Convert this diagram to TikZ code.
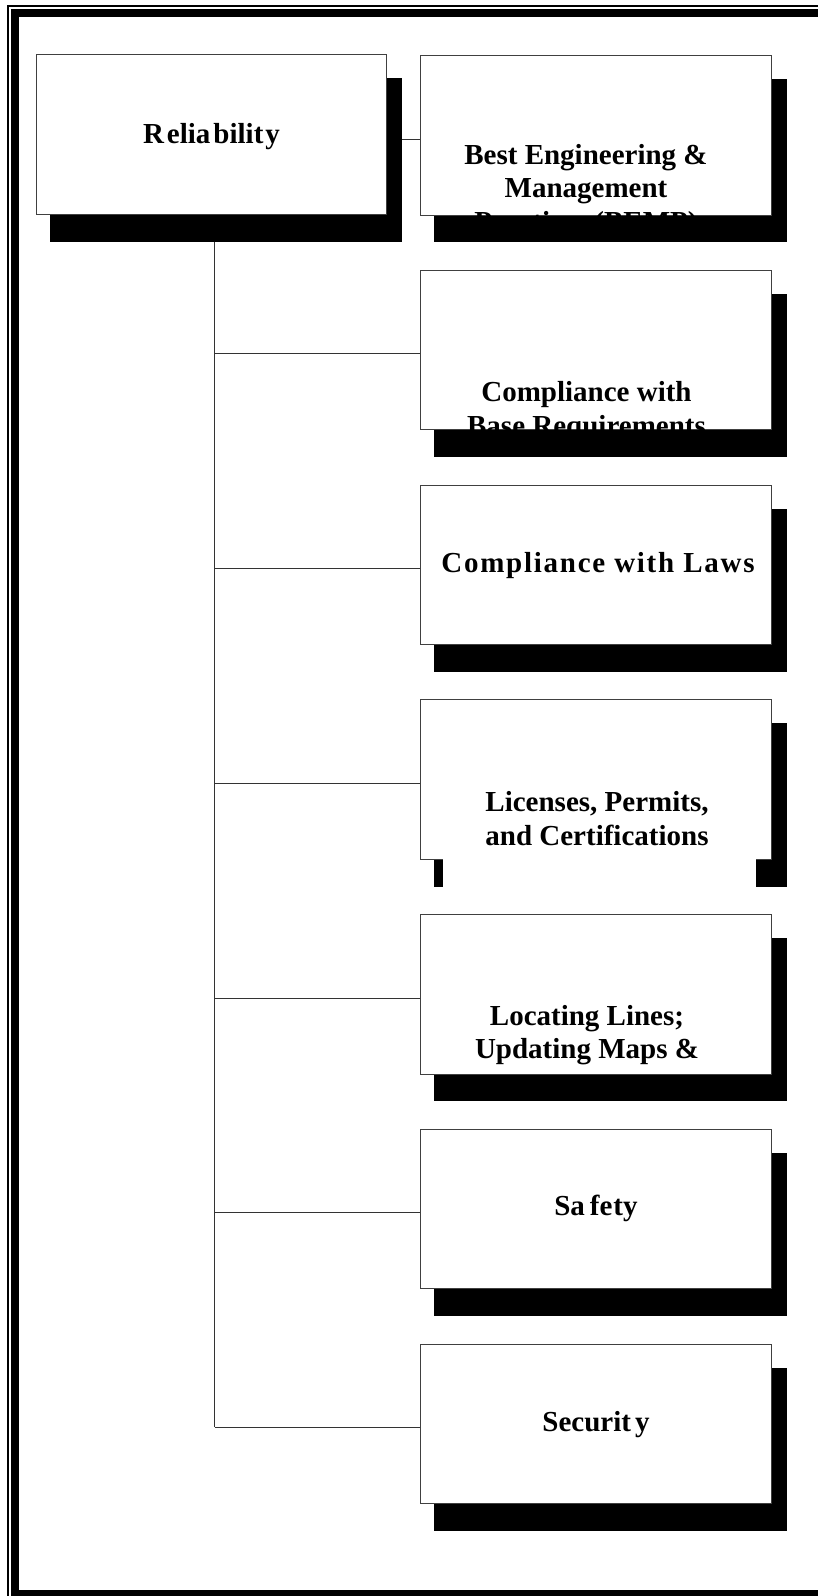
\documentclass[tikz,border=0pt]{standalone}
\usepackage{fontspec}
\setmainfont{Liberation Serif}
\usetikzlibrary{calc}
\pgfdeclarelayer{wires}
\pgfdeclarelayer{shade}
\pgfsetlayers{wires,shade,main}

\tikzset{
  card/.style={draw=black!75, line width=0.9pt, fill=white, inner sep=0pt,
    minimum width=351pt, minimum height=159.5pt, anchor=north west},
  rootcard/.style={card, minimum width=350pt, minimum height=160pt},
  % multi-line texts sit on the baseline of their last line
  txt/.style={font=\bfseries\fontsize{29}{33.5}\selectfont, align=center,
    inner sep=0pt, anchor=base},
  conn/.style={draw=black!80, line width=0.9pt},
  dropshade/.style={fill=black}
}

\begin{document}
\begin{tikzpicture}[x=1pt, y=-1pt]
  \useasboundingbox (0,0) rectangle (818,1596);
  \clip (0,0) rectangle (818,1596);

  % double page frame
  \draw[line width=1.8pt] (8.3,5.9) rectangle (840,1620);
  \draw[line width=8pt] (15,12.8) rectangle (830,1594);

  % root box and the seven sub-topic boxes
  \node[rootcard] (root) at (36,54) {};
  \foreach \i in {1,...,7} {
    \node[card] (b\i) at (420,{55+214.75*(\i-1)}) {};
  }

  % blank backing behind the licences text
  \fill[white] (442.7,772) rectangle (756,889);

  % drop shadows
  \begin{pgfonlayer}{shade}
    \foreach \n in {root,b1,b2,b3,b4,b5,b6,b7} {
      \fill[dropshade] ($(\n.north west)+(14,24)$) rectangle ($(\n.south east)+(15,27)$);
    }
  \end{pgfonlayer}

  % connectors
  \coordinate (tx) at (214.7,0);
  \begin{pgfonlayer}{wires}
    \draw[conn] ([yshift=-3.75pt]b1.west -| root.east) -- ([yshift=-3.75pt]b1.west);
    \draw[conn] (tx |- root.south) -- ([yshift=-3.75pt]b7.west -| tx);
    \foreach \i in {2,...,7} {
      \draw[conn] ([yshift=-3.75pt]b\i.west -| tx) -- ([yshift=-3.75pt]b\i.west);
    }
  \end{pgfonlayer}

  % box texts
  \node[txt] (troot) at (211.5,143.5) {R\kern3pt elia\kern3pt bilit\kern2pt y};
  \node[txt] (t1) at (586,231) {Best Engineering \&\\Management\\Practices (BEMP)};
  \node[txt] (t2) at (586.5,435.2) {Compliance with\\Base Requirements};
  \node[txt] (t3) at (598,572.7) {\addfontfeature{LetterSpace=6}Compliance with Laws};
  \node[txt] (t4) at (597,845.2) {Licenses, Permits,\\and Certifications};
  \node[txt] (t5) at (587,1058.9) {Locating Lines;\\Updating Maps \&};
  \node[txt] (t6) at (596,1215.7) {Sa\kern5pt fe\kern1pt ty};
  \node[txt] (t7) at (596,1431.7) {Securit\kern4pt y};
\end{tikzpicture}
\end{document}
